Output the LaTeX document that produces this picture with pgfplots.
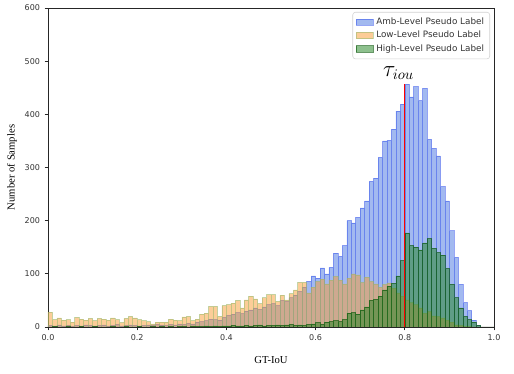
\documentclass[border=0pt]{standalone}
\usepackage{fontspec}
\setmainfont{Liberation Serif}
\newfontfamily\dejavu{DejaVu Sans}
\usepackage{pgfplots}
\pgfplotsset{compat=1.18}
\usepackage{pgfplotstable}

\definecolor{ambfill}{RGB}{70,115,225}
\definecolor{ambedge}{RGB}{50,80,235}
\definecolor{lowfill}{RGB}{250,155,50}
\definecolor{lowedge}{RGB}{150,185,110}
\definecolor{highfill}{RGB}{30,130,30}
\definecolor{highedge}{RGB}{0,80,0}

% bin left edge, counts per series (last row closes the last bin)
\pgfplotstableread{
x    amb  low  high
0.00 3    28   0
0.01 2    14   1
0.02 4    17   0
0.03 2    13   0
0.04 3    14   1
0.05 1    9    0
0.06 3    18   0
0.07 2    15   1
0.08 4    13   0
0.09 3    16   0
0.10 2    12   1
0.11 3    16   0
0.12 4    15   0
0.13 2    13   0
0.14 3    17   1
0.15 5    14   0
0.16 2    8    0
0.17 3    16   1
0.18 4    20   0
0.19 3    17   0
0.20 2    14   1
0.21 3    12   0
0.22 4    10   0
0.23 3    6    1
0.24 5    9    0
0.25 4    9    1
0.26 3    9    0
0.27 5    15   1
0.28 4    13   0
0.29 6    12   1
0.30 5    19   1
0.31 7    20   0
0.32 6    12   2
0.33 9    15   1
0.34 10   24   1
0.35 12   26   2
0.36 15   39   1
0.37 14   39   2
0.38 13   20   1
0.39 18   40   2
0.40 22   42   2
0.41 24   45   3
0.42 27   50   2
0.43 25   36   2
0.44 30   51   3
0.45 32   58   2
0.46 36   53   3
0.47 33   44   4
0.48 38   55   2
0.49 42   61   3
0.50 44   61   3
0.51 40   48   4
0.52 50   60   3
0.53 48   51   4
0.54 55   63   5
0.55 60   70   3
0.56 67   84   4
0.57 75   84   3
0.58 86   64   5
0.59 96   75   6
0.60 92   86   8
0.61 111  90   5
0.62 100  81   9
0.63 112  88   10
0.64 139  95   12
0.65 133  88   10
0.66 153  81   14
0.67 200  92   26
0.68 196  100  27
0.69 206  98   24
0.70 224  84   32
0.71 237  94   38
0.72 274  86   50
0.73 280  81   52
0.74 319  75   58
0.75 350  80   70
0.76 351  83   77
0.77 372  73   82
0.78 406  64   96
0.79 419  58   125
0.80 457  51   177
0.81 433  46   153
0.82 452  42   150
0.83 426  36   145
0.84 449  26   158
0.85 353  29   166
0.86 336  21   148
0.87 322  20   140
0.88 264  17   135
0.89 237  13   110
0.90 181  9    80
0.91 131  4    55
0.92 80   3    36
0.93 46   1    20
0.94 31   1    14
0.95 13   0    9
0.96 3    0    3
0.97 0    0    0
0.98 0    0    0
0.99 0    0    0
1.00 0    0    0
}\histdata

\begin{document}
\begin{tikzpicture}
\begin{axis}[
    scale only axis,
    width=334.5pt,
    height=239.25pt,
    xmin=0, xmax=1,
    ymin=0, ymax=600,
    enlargelimits=false,
    xtick={0,0.2,0.4,0.6,0.8,1.0},
    ytick={0,100,200,300,400,500,600},
    xticklabel style={/pgf/number format/.cd, fixed, fixed zerofill, precision=1},
    /pgf/number format/assume math mode=true,
    ticklabel style={font=\dejavu\fontsize{6}{7}\selectfont, text=black!80},
    tick align=outside,
    tick pos=left,
    major tick length=2.5pt,
    axis line style={black!85, line width=0.5pt},
    tick style={black!85, line width=0.5pt},
    xlabel={GT-IoU},
    ylabel={Number of Samples},
    label style={font=\fontsize{8}{9}\selectfont},
    xlabel style={at={(axis description cs:0.5,-0.1034)}, anchor=center},
    ylabel style={at={(axis description cs:-0.0807,0.5)}, anchor=center},
    legend style={at={(1,1)}, anchor=north east, xshift=-3pt, yshift=-3pt,
        draw=black!18, rounded corners=2pt, fill=white, fill opacity=0.85, text opacity=1,
        font=\dejavu\fontsize{6.6}{7}\selectfont, text=black!80,
        row sep=-0.6pt, inner sep=2.3pt},
    legend cell align=left,
    legend image code/.code={\draw[#1, sharp corners] (0pt,-2.3pt) rectangle (13pt,2.3pt);},
]
\addplot[ybar interval, fill=ambfill, fill opacity=0.5, draw=ambedge, draw opacity=0.5, line width=0.4pt]
    table[x=x, y=amb] {\histdata};
\addlegendentry{Amb-Level Pseudo Label}
\addplot[ybar interval, fill=lowfill, fill opacity=0.5, draw=lowedge, draw opacity=0.55, line width=0.4pt]
    table[x=x, y=low] {\histdata};
\addlegendentry{Low-Level Pseudo Label}
\addplot[ybar interval, fill=highfill, fill opacity=0.5, draw=highedge, draw opacity=0.6, line width=0.4pt]
    table[x=x, y=high] {\histdata};
\addlegendentry{High-Level Pseudo Label}
\addplot[red, line width=1pt, forget plot] coordinates {(0.8,0) (0.8,457)};
\node at (axis cs:0.786,478) {\fontsize{16}{16}\selectfont$\tau_{iou}$};
\end{axis}
\pgfresetboundingbox
\path[use as bounding box] (-36pt,-35.25pt) rectangle (349.5pt,245.25pt);
\end{tikzpicture}
\end{document}
